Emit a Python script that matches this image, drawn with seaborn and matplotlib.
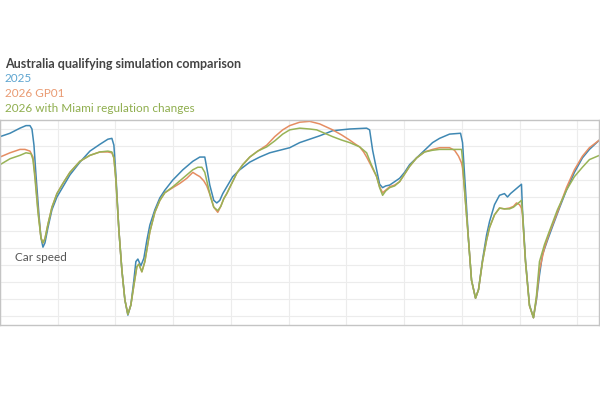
import numpy as np
import pandas as pd
import matplotlib
matplotlib.use("Agg")
import matplotlib.pyplot as plt
from matplotlib.ticker import MultipleLocator
import seaborn as sns

# ---- data (distance in m, speed in km/h) ----
dist_2025 = [0, 100, 200, 260, 300, 320, 340, 360, 390, 410, 430, 450, 480, 520, 570, 630, 700, 800, 900, 1000,
             1080, 1120, 1140, 1160, 1190, 1220, 1250, 1280, 1310, 1340, 1360, 1380, 1410, 1440, 1470, 1500, 1550, 1600, 1650, 1730,
             1830, 1930, 2000, 2050, 2070, 2100, 2140, 2170, 2200, 2230, 2280, 2330, 2400, 2500, 2600, 2700, 2800, 2900, 3000, 3100,
             3200, 3330, 3500, 3670, 3700, 3730, 3770, 3800, 3830, 3860, 3900, 3950, 4000, 4050, 4100, 4170, 4250, 4330, 4400, 4500,
             4610, 4630, 4660, 4690, 4720, 4760, 4790, 4830, 4870, 4900, 4950, 5000, 5050, 5080, 5110, 5150, 5220, 5230, 5260, 5300,
             5340, 5370, 5400, 5430, 5480, 5530, 5600, 5670, 5750, 5830, 5900, 6000]
speed_2025 = [271, 275, 281, 284, 284, 280, 261, 226, 179, 152, 141, 146, 164, 185, 200, 212, 226, 241, 254, 262,
              268, 269, 261, 226, 161, 114, 79, 61, 73, 102, 124, 127, 119, 128, 149, 167, 185, 199, 208, 220,
              232, 242, 247, 247, 234, 214, 196, 193, 196, 204, 214, 224, 232, 241, 247, 252, 255, 258, 264, 268,
              272, 278, 280, 281, 279, 255, 232, 215, 211, 213, 214, 218, 222, 229, 238, 246, 255, 264, 269, 274,
              275, 264, 208, 149, 102, 81, 91, 126, 155, 171, 191, 202, 204, 200, 204, 208, 215, 185, 126, 73,
              58, 79, 108, 132, 149, 165, 187, 208, 229, 246, 256, 267]

dist_gp01 = [0, 100, 200, 250, 300, 330, 350, 380, 410, 430, 450, 480, 520, 570, 630, 700, 800, 900, 1000, 1080,
             1120, 1140, 1160, 1190, 1220, 1250, 1280, 1310, 1340, 1370, 1390, 1420, 1450, 1500, 1550, 1600, 1650, 1730, 1800, 1870,
             1930, 1970, 2000, 2040, 2070, 2110, 2140, 2180, 2210, 2240, 2270, 2320, 2370, 2430, 2500, 2580, 2670, 2750, 2830, 2900,
             3000, 3100, 3200, 3330, 3420, 3500, 3560, 3600, 3640, 3670, 3710, 3770, 3800, 3830, 3860, 3900, 3950, 4000, 4050, 4100,
             4170, 4250, 4330, 4400, 4500, 4550, 4590, 4620, 4630, 4650, 4690, 4720, 4760, 4790, 4830, 4870, 4900, 4950, 5000, 5050,
             5100, 5140, 5170, 5200, 5220, 5230, 5260, 5300, 5340, 5370, 5400, 5450, 5500, 5580, 5670, 5750, 5830, 5900, 6000]
speed_gp01 = [247, 252, 256, 256, 254, 247, 226, 185, 152, 146, 151, 168, 188, 204, 216, 229, 242, 249, 253, 253,
              252, 246, 220, 161, 114, 79, 62, 73, 96, 118, 121, 112, 124, 159, 182, 196, 205, 211, 216, 222,
              229, 226, 224, 219, 213, 200, 188, 182, 189, 198, 204, 216, 228, 238, 247, 254, 261, 271, 279, 284,
              288, 289, 286, 279, 273, 267, 262, 259, 253, 247, 238, 224, 212, 205, 208, 212, 214, 218, 227, 236,
              246, 253, 256, 258, 258, 255, 248, 240, 234, 208, 149, 102, 81, 91, 124, 149, 164, 179, 187, 186,
              187, 189, 193, 191, 187, 179, 124, 72, 58, 81, 114, 140, 158, 182, 211, 232, 248, 258, 267]

dist_miami = [0, 100, 200, 260, 310, 330, 350, 380, 410, 430, 450, 480, 520, 570, 630, 700, 800, 900, 1000, 1080,
              1120, 1140, 1160, 1190, 1220, 1250, 1280, 1310, 1340, 1370, 1390, 1420, 1450, 1500, 1550, 1600, 1650, 1730, 1800, 1870,
              1930, 1980, 2020, 2050, 2080, 2110, 2140, 2180, 2210, 2240, 2270, 2320, 2370, 2430, 2500, 2580, 2670, 2750, 2830, 2900,
              3000, 3100, 3170, 3250, 3330, 3420, 3500, 3600, 3640, 3670, 3710, 3770, 3800, 3830, 3860, 3900, 3950, 4000, 4050, 4100,
              4170, 4250, 4330, 4400, 4500, 4620, 4630, 4650, 4690, 4720, 4760, 4790, 4830, 4870, 4900, 4950, 5000, 5050, 5100, 5140,
              5170, 5200, 5220, 5230, 5260, 5300, 5340, 5370, 5400, 5450, 5500, 5580, 5670, 5750, 5830, 5900, 6000]
speed_miami = [238, 245, 249, 252, 251, 244, 222, 182, 152, 146, 151, 168, 188, 204, 216, 229, 242, 249, 253, 254,
               253, 246, 220, 161, 114, 79, 62, 73, 96, 118, 121, 112, 124, 159, 182, 196, 205, 212, 219, 226,
               232, 235, 235, 229, 214, 199, 188, 184, 189, 198, 204, 216, 228, 238, 247, 254, 259, 266, 274, 279,
               281, 280, 279, 275, 271, 267, 264, 259, 255, 252, 240, 224, 211, 202, 207, 211, 213, 218, 227, 236,
               246, 253, 255, 256, 256, 256, 244, 208, 149, 102, 81, 91, 124, 149, 164, 179, 187, 186, 186, 188,
               191, 194, 196, 182, 124, 72, 58, 84, 124, 144, 160, 185, 208, 224, 235, 244, 249]

series_names = ["2025", "2026 GP01", "2026 with Miami regulation changes"]
title_text = "Australia qualifying simulation comparison"
annotation = "Car speed"

colors = {"2025": "#3f88b3", "2026 GP01": "#e58d62", "2026 with Miami regulation changes": "#98b356"}
text_colors = {"2025": "#5ea5d0", "2026 GP01": "#e99a72", "2026 with Miami regulation changes": "#8fae4e"}

frames = []
for name, d, s in zip(series_names, [dist_2025, dist_gp01, dist_miami], [speed_2025, speed_gp01, speed_miami]):
    frames.append(pd.DataFrame({"distance": d, "speed": s, "series": name}))
df = pd.concat(frames, ignore_index=True)

sns.set_theme(style="white")
plt.rcParams["font.family"] = ["Lato", "DejaVu Sans"]

fig = plt.figure(figsize=(6, 4), dpi=100)
ax = fig.add_axes([0.0, 0.1875, 0.999, 0.5125])

sns.lineplot(data=df, x="distance", y="speed", hue="series", hue_order=series_names,
             palette=colors, estimator=None, sort=False, linewidth=1.1, legend=False, ax=ax)

ax.set_xlim(0, 6000)
ax.set_ylim(49.4, 290.6)
ax.xaxis.set_major_locator(MultipleLocator(578))
ax.yaxis.set_major_locator(MultipleLocator(20))
ax.grid(True, color="#ececec", linewidth=0.8)
ax.set_axisbelow(True)
ax.tick_params(left=False, bottom=False, labelleft=False, labelbottom=False)
ax.set_xlabel("")
ax.set_ylabel("")
for sp in ax.spines.values():
    sp.set_color("#c4c4c4")
    sp.set_linewidth(1.0)

ax.text(150, 129, annotation, ha="left", va="center", fontsize=8.5, color="#555555")

fig.text(0.008, 1 - 64 / 400, title_text, ha="left", va="center", fontsize=9,
         fontweight="bold", color="#444444")
for name, ypx in zip(series_names, [79, 93.5, 108]):
    fig.text(0.008, 1 - ypx / 400, name, ha="left", va="center", fontsize=8.5, color=text_colors[name])

fig.savefig("out.png", dpi=100, facecolor="white")
